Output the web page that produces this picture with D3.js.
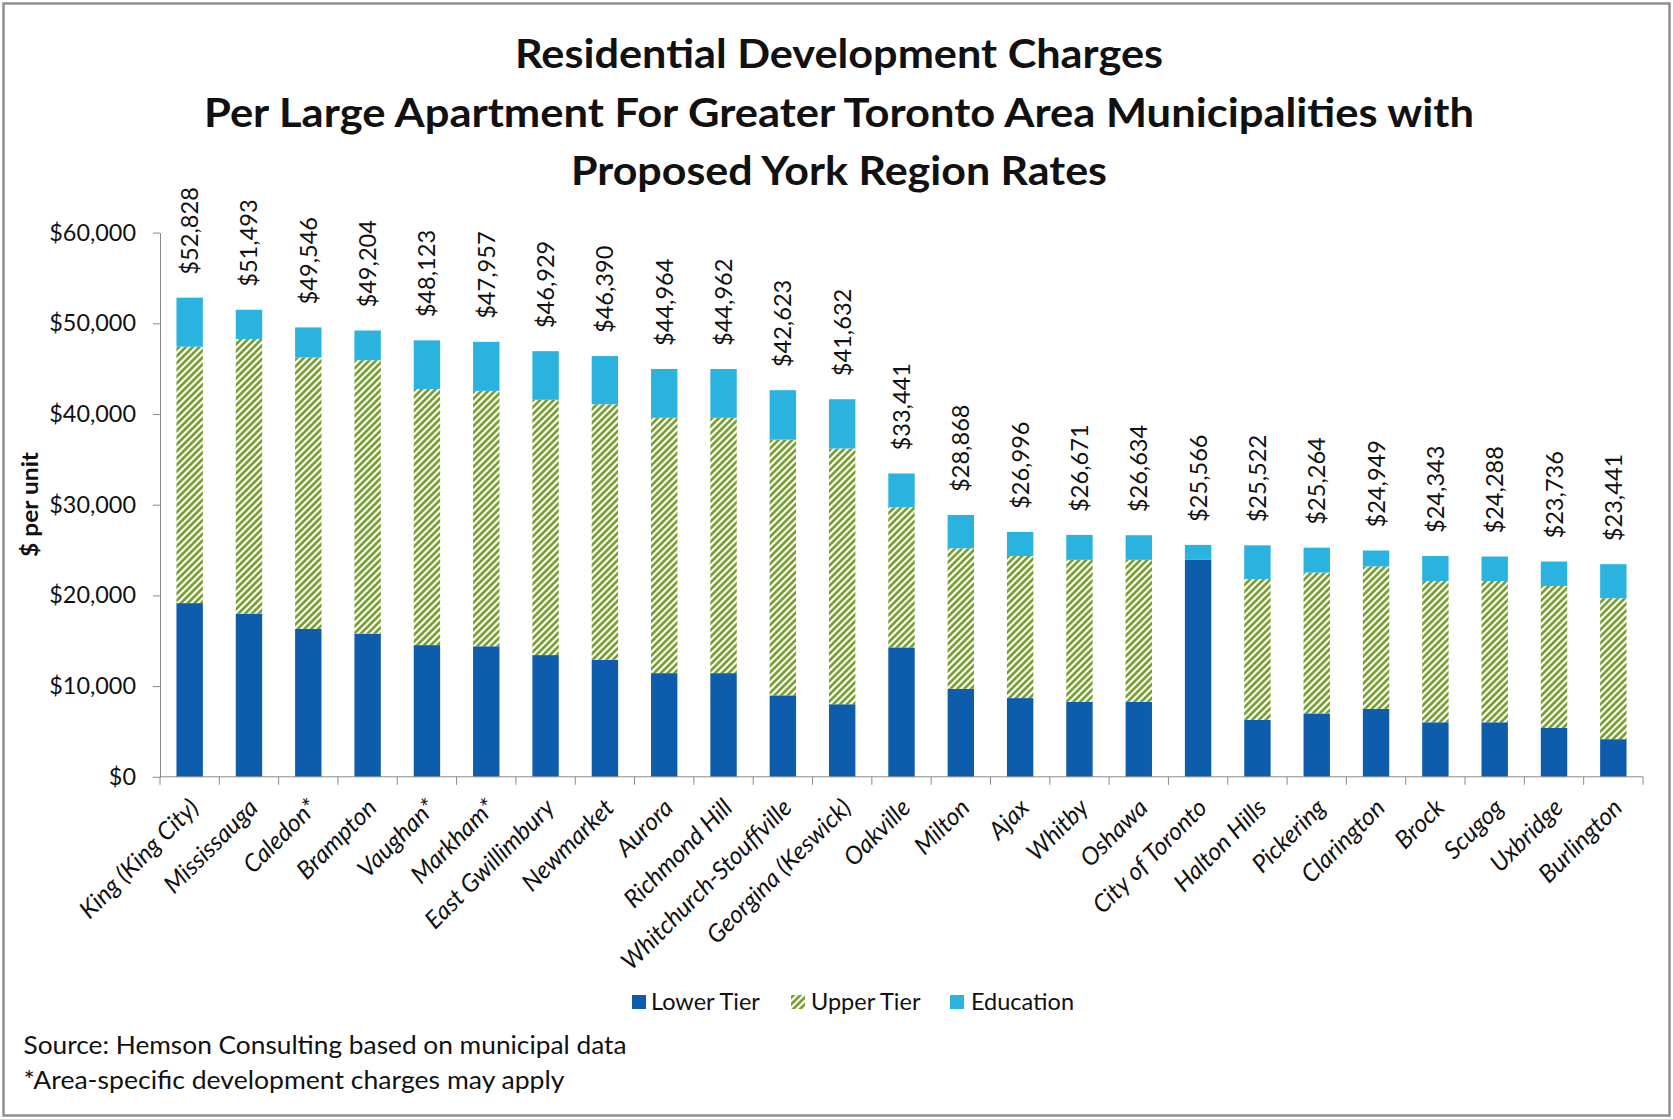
<!DOCTYPE html>
<html>
<head>
<meta charset="utf-8">
<script src="https://cdn.jsdelivr.net/npm/d3@7"></script>
<style>
  body { margin: 0; background: #fff; }
  svg { display: block; }
  text { font-family: Lato, "Open Sans", sans-serif; fill: #111; }
</style>
</head>
<body>
<svg id="chart" width="1673" height="1119"></svg>
<script>
// Municipalities, ordered by total charge
const categories = [
  "King (King City)", "Mississauga", "Caledon*", "Brampton", "Vaughan*", "Markham*",
  "East Gwillimbury", "Newmarket", "Aurora", "Richmond Hill", "Whitchurch-Stouffville",
  "Georgina (Keswick)", "Oakville", "Milton", "Ajax", "Whitby", "Oshawa", "City of Toronto",
  "Halton Hills", "Pickering", "Clarington", "Brock", "Scugog", "Uxbridge", "Burlington"
];
// $ per unit by component
const lowerTier = [19150, 18000, 16300, 15790, 14520, 14390, 13420, 12910, 11430, 11430, 8980, 8000,
                   14270, 9700, 8680, 8260, 8260, 23920, 6270, 6990, 7490, 6010, 6010, 5380, 4150];
const upperTier = [28270, 30260, 29930, 30140, 28240, 28160, 28150, 28160, 28150, 28150, 28190, 28200,
                   15450, 15490, 15660, 15660, 15660, 0, 15530, 15530, 15710, 15580, 15580, 15660, 15540];
const education = [5408, 3233, 3316, 3274, 5363, 5407, 5359, 5320, 5384, 5382, 5453, 5432,
                   3721, 3678, 2656, 2751, 2714, 1646, 3722, 2744, 1749, 2753, 2698, 2696, 3751];
const totals = [52828, 51493, 49546, 49204, 48123, 47957, 46929, 46390, 44964, 44962, 42623, 41632,
                33441, 28868, 26996, 26671, 26634, 25566, 25522, 25264, 24949, 24343, 24288, 23736, 23441];
const seriesNames = ["Lower Tier", "Upper Tier", "Education"];
const yTicks = [0, 10000, 20000, 30000, 40000, 50000, 60000];
const titleLines = [
  "Residential Development Charges",
  "Per Large Apartment For Greater Toronto Area Municipalities with",
  "Proposed York Region Rates"
];
const notes = [
  "Source: Hemson Consulting based on municipal data",
  "*Area-specific development charges may apply"
];

const COLORS = { lower: "#0e5dad", upperStroke: "#6c961b", edu: "#2bb3df", axis: "#8a8a8a" };

const svg = d3.select("#chart");

// diagonal hatch used for the upper-tier segments
const defs = svg.append("defs");
const hatch = defs.append("pattern")
  .attr("id", "upperHatch")
  .attr("patternUnits", "userSpaceOnUse")
  .attr("width", 4.8).attr("height", 4.8)
  .attr("patternTransform", "rotate(45)");
hatch.append("rect").attr("width", 4.8).attr("height", 4.8).attr("fill", "#fff");
hatch.append("line")
  .attr("x1", 2.4).attr("y1", -1).attr("x2", 2.4).attr("y2", 5.8)
  .attr("stroke", COLORS.upperStroke).attr("stroke-width", 2.5);

// outer frame
svg.append("rect")
  .attr("x", 3.5).attr("y", 3.5).attr("width", 1666).attr("height", 1112)
  .attr("fill", "#fff").attr("stroke", "#8f8f8f").attr("stroke-width", 2.5);

// title
const titleWidths = [648, 1270, 536];
svg.append("g").selectAll("text").data(titleLines).join("text")
  .attr("x", 839).attr("y", (d, i) => 68 + i * 58.5)
  .attr("text-anchor", "middle")
  .attr("font-size", 41).attr("font-weight", 700)
  .attr("textLength", (d, i) => titleWidths[i])
  .attr("lengthAdjust", "spacingAndGlyphs")
  .text(d => d);

// scales
const x = d3.scaleBand().domain(categories).range([160, 1643]).paddingInner(0.555).paddingOuter(0.2775);
const y = d3.scaleLinear().domain([0, 60000]).range([776.8, 232.6]);

// y axis
const yAxis = svg.append("g").attr("transform", "translate(160,0)")
  .call(d3.axisLeft(y).tickValues(yTicks).tickFormat(d3.format("$,.0f")).tickSize(7).tickSizeOuter(0).tickPadding(17));
yAxis.select(".domain").attr("stroke", COLORS.axis);
yAxis.selectAll(".tick line").attr("stroke", COLORS.axis);
yAxis.selectAll(".tick text").attr("font-size", 23.4).attr("fill", "#222").attr("font-family", "Lato, sans-serif");

svg.append("text")
  .attr("transform", "translate(30,504.5) rotate(-90)")
  .attr("text-anchor", "middle").attr("dy", "0.36em")
  .attr("font-size", 23).attr("font-weight", 700)
  .attr("textLength", 105).attr("lengthAdjust", "spacingAndGlyphs")
  .text("$ per unit");

// stacked bars
const rows = categories.map((c, i) => ({ name: c, lower: lowerTier[i], upper: upperTier[i], edu: education[i], total: totals[i] }));
const stack = d3.stack().keys(["lower", "upper", "edu"]);
const layers = stack(rows);
const fills = { lower: COLORS.lower, upper: "url(#upperHatch)", edu: COLORS.edu };

svg.append("g").selectAll("g").data(layers).join("g")
  .attr("fill", d => fills[d.key])
  .selectAll("rect").data(d => d).join("rect")
  .attr("x", d => x(d.data.name))
  .attr("width", x.bandwidth())
  .attr("y", d => y(d[1]))
  .attr("height", d => Math.max(0, y(d[0]) - y(d[1])));

// x axis: baseline with ticks on the category boundaries
const xAxisG = svg.append("g").attr("transform", `translate(0,${y(0)})`);
xAxisG.append("line").attr("x1", 160).attr("x2", 1643).attr("stroke", COLORS.axis);
const gap = (x.step() - x.bandwidth()) / 2;
const boundaries = categories.map(c => x(c) - gap).concat([x(categories[categories.length - 1]) + x.bandwidth() + gap]);
xAxisG.selectAll("line.tick").data(boundaries).join("line")
  .attr("class", "tick")
  .attr("x1", d => d).attr("x2", d => d).attr("y1", 0).attr("y2", 8)
  .attr("stroke", COLORS.axis);

// category labels
svg.append("g").selectAll("text").data(categories).join("text")
  .attr("transform", d => `translate(${x(d) + x.bandwidth() / 2 - 2},${y(0) + 20}) rotate(-45)`)
  .attr("text-anchor", "end").attr("dy", "0.72em")
  .attr("font-size", 24.5).attr("font-style", "italic")
  .text(d => d);

// total labels above each bar
svg.append("g").selectAll("text").data(rows).join("text")
  .attr("transform", d => `translate(${x(d.name) + x.bandwidth() / 2},${y(d.total) - 23}) rotate(-90)`)
  .attr("dy", "0.36em")
  .attr("font-size", 23.6)
  .text(d => d3.format("$,.0f")(d.total));

// legend
const legendItems = [
  { label: seriesNames[0], fill: COLORS.lower, sx: 632, tx: 651 },
  { label: seriesNames[1], fill: "url(#upperHatch)", sx: 791, tx: 811 },
  { label: seriesNames[2], fill: COLORS.edu, sx: 950, tx: 971 }
];
const legend = svg.append("g");
legend.selectAll("rect").data(legendItems).join("rect")
  .attr("x", d => d.sx).attr("y", 995).attr("width", 14).attr("height", 14)
  .attr("fill", d => d.fill);
legend.selectAll("text").data(legendItems).join("text")
  .attr("x", d => d.tx).attr("y", 1002).attr("dy", "0.36em")
  .attr("font-size", 23.5)
  .text(d => d.label);

// notes
const noteWidths = [603, 541];
svg.append("g").selectAll("text").data(notes).join("text")
  .attr("x", 23.5).attr("y", (d, i) => 1054 + i * 35)
  .attr("font-size", 25)
  .attr("textLength", (d, i) => noteWidths[i]).attr("lengthAdjust", "spacingAndGlyphs")
  .text(d => d);
</script>
</body>
</html>
